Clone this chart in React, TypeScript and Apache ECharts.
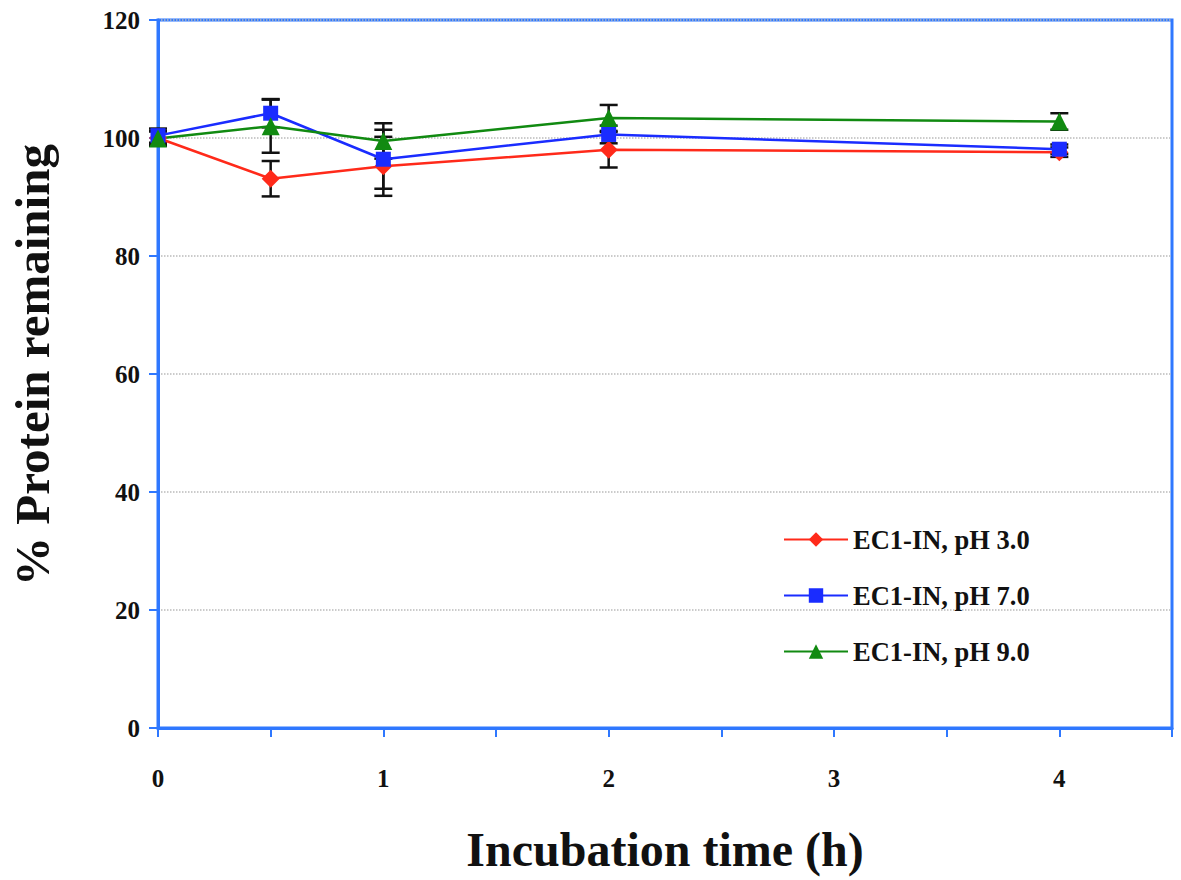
import React, { useEffect, useRef } from "react";
import * as echarts from "echarts";

const timesH = [0, 0.5, 1, 2, 4];
const ph3Values = [100, 93.1, 95.2, 98, 97.6];
const ph3Errors = [1.2, 3, 5, 3, 0.8];
const ph7Values = [100.4, 104.2, 96.4, 100.6, 98.1];
const ph7Errors = [1.2, 2.4, 5, 1.5, 0.8];
const ph9Values = [99.9, 102, 99.5, 103.4, 102.8];
const ph9Errors = [1.2, 4.5, 3, 2.2, 1.4];
const seriesNames = ["EC1-IN, pH 3.0", "EC1-IN, pH 7.0", "EC1-IN, pH 9.0"];
const seriesColors = ["#ff2a1a", "#1a2cff", "#118a11"];
const seriesSymbols = ["diamond", "rect", "triangle"];

const FONT = '"Liberation Serif", "Times New Roman", serif';
const AXIS_BLUE = "#2f78ff";

function errorSeries(values: number[], errors: number[]) {
  return {
    type: "custom",
    silent: true,
    z: 1,
    data: timesH.map((t, i) => [t, values[i] - errors[i], values[i] + errors[i]]),
    renderItem: (params: any, api: any) => {
      const lo = api.coord([api.value(0), api.value(1)]);
      const hi = api.coord([api.value(0), api.value(2)]);
      const w = 9;
      const style = { stroke: "#111", lineWidth: 2.5 };
      return {
        type: "group",
        children: [
          { type: "line", shape: { x1: lo[0], y1: lo[1], x2: hi[0], y2: hi[1] }, style },
          { type: "line", shape: { x1: lo[0] - w, y1: lo[1], x2: lo[0] + w, y2: lo[1] }, style },
          { type: "line", shape: { x1: hi[0] - w, y1: hi[1], x2: hi[0] + w, y2: hi[1] }, style },
        ],
      };
    },
  };
}

function lineSeries(idx: number, values: number[]) {
  return {
    type: "line",
    name: seriesNames[idx],
    data: timesH.map((t, i) => [t, values[i]]),
    symbol: seriesSymbols[idx],
    symbolSize: idx === 1 ? 15 : 18,
    showAllSymbol: true,
    z: 3,
    lineStyle: { color: seriesColors[idx], width: 2.5 },
    itemStyle: { color: seriesColors[idx] },
  };
}

export default function App() {
  const ref = useRef<HTMLDivElement>(null);
  useEffect(() => {
    if (!ref.current) return;
    const chart = echarts.init(ref.current, undefined, { renderer: "svg" });
    chart.setOption({
      animation: false,
      backgroundColor: "#fff",
      grid: {
        left: 158,
        right: 9,
        top: 20,
        bottom: 152,
        show: true,
        borderColor: AXIS_BLUE,
        borderWidth: 3,
        containLabel: false,
        outerBoundsMode: "none",
      },
      legend: {
        left: 778,
        top: 521,
        orient: "vertical",
        itemWidth: 64,
        itemHeight: 18,
        itemGap: 29,
        data: seriesNames,
        textStyle: { fontFamily: FONT, fontSize: 26.5, fontWeight: "bold", color: "#111" },
      },
      xAxis: {
        type: "value",
        min: 0,
        max: 4.5,
        interval: 0.5,
        name: "Incubation time (h)",
        nameLocation: "middle",
        nameGap: 97,
        nameTextStyle: { fontFamily: FONT, fontSize: 48, fontWeight: "bold", color: "#111" },
        axisLine: { show: true, lineStyle: { color: AXIS_BLUE, width: 3 } },
        axisTick: { show: true, inside: false, length: 9, lineStyle: { color: AXIS_BLUE, width: 2 } },
        splitLine: { show: false },
        axisLabel: {
          margin: 38,
          fontFamily: FONT,
          fontSize: 25,
          fontWeight: "bold",
          color: "#111",
          showMaxLabel: true,
          formatter: (v: number) => (Number.isInteger(v) ? String(v) : ""),
        },
      },
      yAxis: {
        type: "value",
        min: 0,
        max: 120,
        interval: 20,
        name: "% Protein remaining",
        nameLocation: "middle",
        nameGap: 101,
        nameTextStyle: {
          fontFamily: FONT,
          fontSize: 49,
          fontWeight: "bold",
          color: "#111",
          padding: [0, 0, 0, 18],
        },
        axisLine: { show: true, lineStyle: { color: AXIS_BLUE, width: 3 } },
        axisTick: { show: true, inside: false, length: 9, lineStyle: { color: AXIS_BLUE, width: 2 } },
        splitLine: { show: true, lineStyle: { color: "#bbbbbb", type: "dotted", width: 1.5 } },
        axisLabel: {
          margin: 18,
          fontFamily: FONT,
          fontSize: 25,
          fontWeight: "bold",
          color: "#111",
        },
      },
      series: [
        errorSeries(ph3Values, ph3Errors),
        errorSeries(ph7Values, ph7Errors),
        errorSeries(ph9Values, ph9Errors),
        lineSeries(0, ph3Values),
        lineSeries(1, ph7Values),
        lineSeries(2, ph9Values),
      ],
    });
    return () => chart.dispose();
  }, []);
  return (
    <div
      ref={ref}
      style={{ position: "fixed", left: 0, top: 0, width: 1181, height: 880 }}
    />
  );
}
